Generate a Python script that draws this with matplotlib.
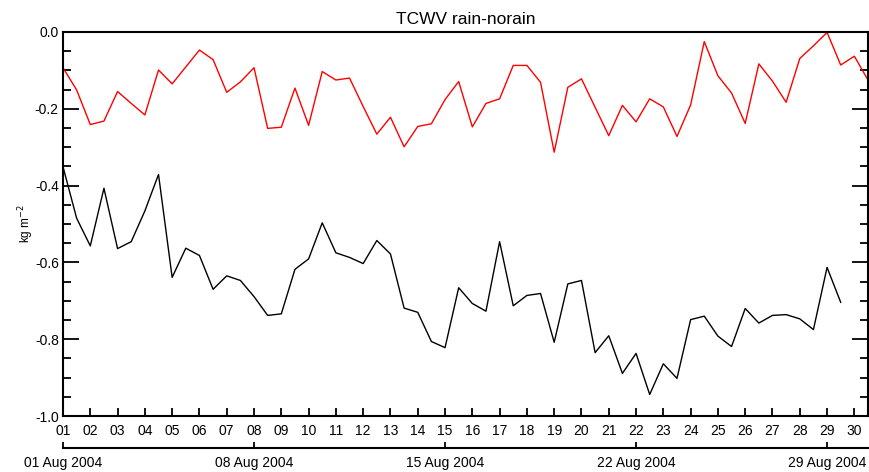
import numpy as np
import pandas as pd
import matplotlib
matplotlib.use('Agg')
import matplotlib.pyplot as plt
import matplotlib.dates as mdates
from matplotlib.ticker import MultipleLocator

plt.rcParams['font.family'] = ['Liberation Sans', 'DejaVu Sans']

# 12-hourly TCWV differences (rain minus no-rain), kg m-2
rain_red = [-0.093, -0.151, -0.241, -0.232, -0.155, -0.186, -0.216, -0.099, -0.135, -0.091,
            -0.047, -0.072, -0.157, -0.130, -0.093, -0.251, -0.248, -0.146, -0.243, -0.103,
            -0.125, -0.120, -0.194, -0.266, -0.222, -0.299, -0.246, -0.239, -0.176, -0.129,
            -0.247, -0.186, -0.174, -0.087, -0.087, -0.131, -0.313, -0.144, -0.122, -0.196,
            -0.270, -0.191, -0.234, -0.174, -0.195, -0.272, -0.190, -0.025, -0.114, -0.159,
            -0.238, -0.083, -0.128, -0.183, -0.069, -0.036, -0.001, -0.086, -0.063, -0.125]
rain_black = [-0.351, -0.485, -0.557, -0.407, -0.564, -0.546, -0.466, -0.371, -0.639, -0.563,
              -0.582, -0.670, -0.635, -0.647, -0.689, -0.738, -0.734, -0.618, -0.591, -0.497,
              -0.575, -0.587, -0.603, -0.543, -0.578, -0.719, -0.730, -0.806, -0.822, -0.666,
              -0.707, -0.727, -0.546, -0.713, -0.686, -0.681, -0.808, -0.656, -0.647, -0.835,
              -0.791, -0.889, -0.837, -0.944, -0.864, -0.902, -0.749, -0.740, -0.792, -0.819,
              -0.720, -0.758, -0.738, -0.736, -0.747, -0.775, -0.613, -0.704]

t_red = pd.date_range('2004-08-01', periods=len(rain_red), freq='12h')
t_black = pd.date_range('2004-08-01', periods=len(rain_black), freq='12h')
t_start = pd.Timestamp('2004-08-01 00:00')
t_end = pd.Timestamp('2004-08-30 12:00')
week_days = [1, 8, 15, 22, 29]

fig = plt.figure(figsize=(8.7, 4.72), dpi=100)
ax = fig.add_axes([63 / 870, 56 / 472, 805 / 870, 384 / 472])

ax.plot(t_red, rain_red, color='red', lw=1.0)
ax.plot(t_black, rain_black, color='black', lw=1.0)

ax.set_xlim(t_start, t_end)
ax.set_ylim(-1.0, 0.0)
ax.set_title('TCWV rain-norain', fontsize=12.5, pad=6)
ax.set_ylabel('kg m$^{-2}$', fontsize=8.5, labelpad=-1)

for s in ax.spines.values():
    s.set_linewidth(1.5)

ax.xaxis.set_major_locator(mdates.DayLocator())
ax.xaxis.set_major_formatter(mdates.DateFormatter('%d'))
ax.yaxis.set_major_locator(MultipleLocator(0.2))
ax.yaxis.set_minor_locator(MultipleLocator(0.05))
ax.yaxis.set_major_formatter(lambda v, p: f'{v:.1f}')

ax.tick_params(axis='x', which='both', direction='in', top=True, length=5.5,
               width=1.3, labelsize=10, pad=6)
ax.tick_params(axis='y', which='major', direction='in', right=True, length=11.5,
               width=1.3, labelsize=10, pad=3)
ax.tick_params(axis='y', which='minor', direction='in', right=True, length=5.8, width=1.3)

# weekly date axis underneath
ax2 = ax.twiny()
ax2.set_xlim(t_start, t_end)
ax2.xaxis.set_ticks_position('bottom')
ax2.xaxis.set_label_position('bottom')
ax2.spines['bottom'].set_position(('outward', 22.8))
ax2.spines['bottom'].set_linewidth(1.5)
for side in ['top', 'left', 'right']:
    ax2.spines[side].set_visible(False)
ax2.xaxis.set_major_locator(mdates.DayLocator(bymonthday=week_days))
ax2.xaxis.set_major_formatter(mdates.DateFormatter('%d %b %Y'))
ax2.tick_params(axis='x', direction='in', length=4, width=1.3, labelsize=10, pad=6)

fig.savefig('out.png', dpi=100)
